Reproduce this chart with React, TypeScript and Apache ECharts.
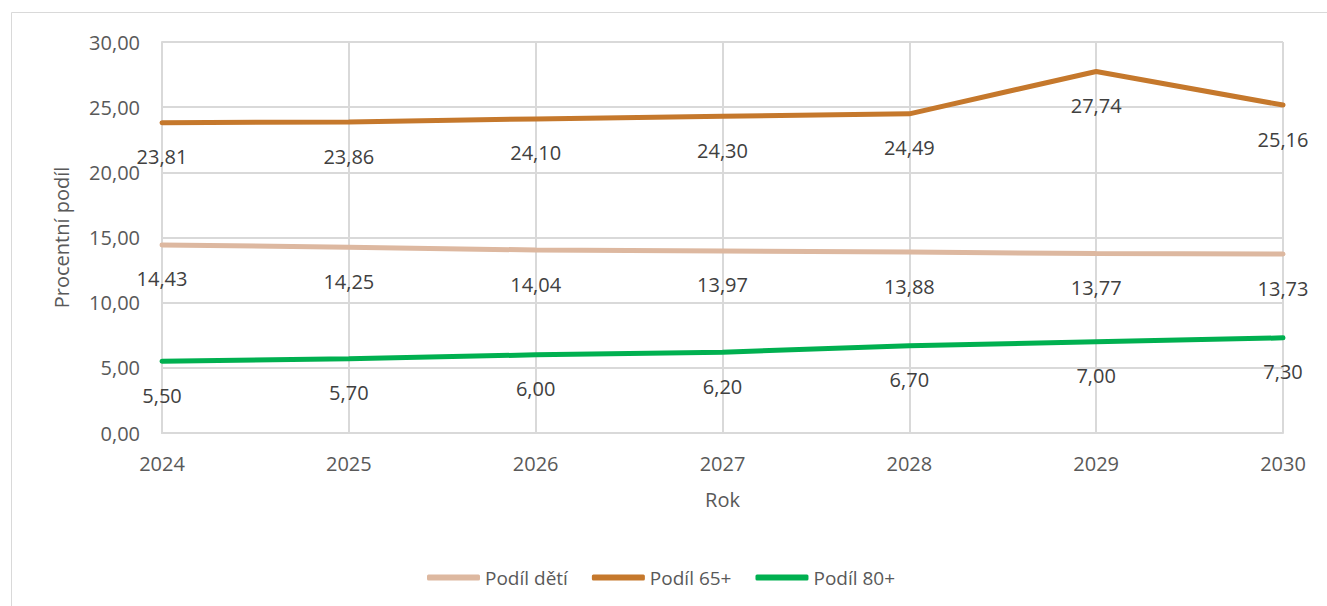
import React, { useEffect, useRef } from "react";
import * as echarts from "echarts";

const years = ["2024", "2025", "2026", "2027", "2028", "2029", "2030"];
const podilDeti = [14.43, 14.25, 14.04, 13.97, 13.88, 13.77, 13.73];
const podil65 = [23.81, 23.86, 24.1, 24.3, 24.49, 27.74, 25.16];
const podil80 = [5.5, 5.7, 6.0, 6.2, 6.7, 7.0, 7.3];

const FONT = "'Open Sans', sans-serif";
const fmt = (v: number) => v.toFixed(2).replace(".", ",");

export default function App() {
  const ref = useRef<HTMLDivElement>(null);
  useEffect(() => {
    if (!ref.current) return;
    const chart = echarts.init(ref.current, undefined, { renderer: "svg" });
    const mk = (name: string, data: number[], color: string) => ({
      name,
      type: "line",
      data,
      symbol: "circle",
      symbolSize: 0.1,
      showSymbol: true,
      lineStyle: { color, width: 5, cap: "round" },
      itemStyle: { color },
      label: {
        show: true,
        position: "bottom",
        distance: 24,
        formatter: (p: any) => fmt(p.value),
        color: "#404040",
        fontSize: 20,
        fontFamily: FONT,
      },
    });
    chart.setOption({
      animation: false,
      backgroundColor: "#fff",
      textStyle: { fontFamily: FONT },
      graphic: [
        {
          type: "rect",
          shape: { x: 11.5, y: 12.5, width: 1340, height: 620 },
          style: { fill: "none", stroke: "#d9d9d9", lineWidth: 1 },
          silent: true,
          z: -10,
        },
      ],
      grid: { left: 162, right: 44, top: 42, bottom: 173 },
      legend: {
        left: 422,
        top: 563,
        icon: "roundRect",
        itemWidth: 53,
        itemHeight: 6,
        itemGap: 24,
        textStyle: { color: "#595959", fontSize: 19, fontFamily: FONT },
        data: ["Podíl dětí", "Podíl 65+", "Podíl 80+"],
      },
      xAxis: {
        type: "category",
        data: years,
        boundaryGap: false,
        name: "Rok",
        nameLocation: "middle",
        nameGap: 56,
        nameTextStyle: { color: "#595959", fontSize: 20, fontFamily: FONT },
        axisLine: { show: true, lineStyle: { color: "#d9d9d9", width: 2 } },
        axisTick: { show: false },
        axisLabel: { color: "#595959", fontSize: 20, fontFamily: FONT, margin: 20 },
        splitLine: { show: true, lineStyle: { color: "#d9d9d9", width: 2 } },
      },
      yAxis: {
        type: "value",
        min: 0,
        max: 30,
        interval: 5,
        name: "Procentní podíl",
        nameLocation: "middle",
        nameRotate: 90,
        nameGap: 91,
        nameTextStyle: { color: "#595959", fontSize: 20, fontFamily: FONT },
        axisLine: { show: true, lineStyle: { color: "#d9d9d9", width: 2 } },
        axisTick: { show: false },
        axisLabel: {
          color: "#595959",
          fontSize: 20,
          fontFamily: FONT,
          margin: 22,
          formatter: (v: number) => fmt(v),
        },
        splitLine: { show: true, lineStyle: { color: "#d9d9d9", width: 2 } },
      },
      series: [
        mk("Podíl dětí", podilDeti, "#DDB8A0"),
        mk("Podíl 65+", podil65, "#C5782C"),
        mk("Podíl 80+", podil80, "#00B050"),
      ],
    });
    return () => chart.dispose();
  }, []);
  return (
    <div
      ref={ref}
      style={{ position: "fixed", left: 0, top: 0, width: 1327, height: 606 }}
    />
  );
}
